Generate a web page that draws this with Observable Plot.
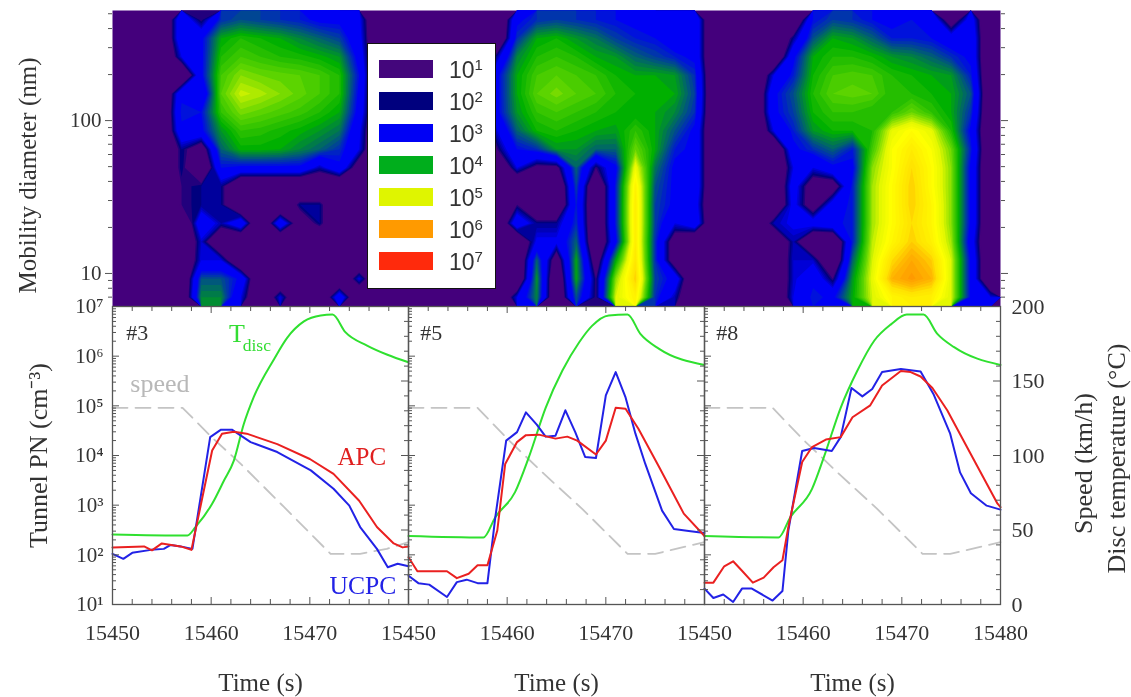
<!DOCTYPE html>
<html><head><meta charset="utf-8">
<script src="https://cdn.jsdelivr.net/npm/d3@7"></script>
<script src="https://cdn.jsdelivr.net/npm/@observablehq/plot@0.6"></script>
<style>
html,body{margin:0;padding:0;background:#fff;overflow:hidden}
#fig{position:relative;width:1131px;height:697px;overflow:hidden;filter:blur(0.45px)}
#fig>div,#fig>svg{position:absolute;left:0}
#legend{left:367px!important;top:43px;width:127px;height:244px;background:#fff;border:1.5px solid #111;box-sizing:content-box;font-family:"Liberation Sans",sans-serif;color:#333}
#legend .sw{position:absolute;left:11px;width:54px;height:18px}
#legend .lb{position:absolute;left:81px;font-size:23px;line-height:20px}
#legend sup{font-size:15px;vertical-align:8px;line-height:0}
</style></head><body><div id="fig"></div>
<script>
// Heat map: log10 number concentration. Rows run from the largest diameter (top) to the smallest,
// columns every 2 s through the three runs laid side by side.
const r00=[1,1,1,3,2,3.3,3.5,3.4,3.3,3.2,3,3,2.6,1,1, 1,1,1,1,1,3,3.3,3.4,3.3,3.2,3.1,3,3,2.5,3, 1,1,1,1,1,3.1,3.4,3.3,3.1,3,3.1,3,1.5,2.8,1];
const r01=[1,1,1,3,3,4,4.2,4.1,4,3.8,3.6,3.4,2.7,1,1, 1,1,1,1,1,3.3,4,4.1,3.9,3.7,3.4,3.2,3.1,2.8,3, 1,1,1,1,2.2,3.5,4,3.9,3.6,3.2,3.2,3.1,2.8,3,1];
const r02=[1,1,1,2.5,3,4.2,4.4,4.3,4.2,4.15,4.05,3.9,2.9,1,1, 1,1,1,1,2.3,3.8,4.2,4.3,4.2,4,3.9,3.6,3.4,3.2,3, 1,1,1,1,3,4,4.2,4.2,4.1,3.9,3.8,3.6,3.3,3,1];
const r03=[1,1,1,1,3,4.4,4.7,4.6,4.55,4.5,4.4,4.2,3.1,1,1, 1,1,1,1,3,4,4.4,4.5,4.4,4.3,4.1,4,4,3.9,3.3, 1,1,1,2.5,3.2,4.1,4.4,4.45,4.4,4.2,4.1,4,3.9,3.2,1];
const r04=[1,1,1,3,2.5,4.5,4.95,4.85,4.7,4.55,4.4,4.2,3,1,1, 1,1,1,1,3,4,4.5,4.65,4.5,4.4,4.2,4.1,4.05,4,3.4, 1,1,1,3,3.5,4.2,4.5,4.55,4.5,4.2,4.2,4.1,4,3.5,1];
const r05=[1,1,1,3.2,3.1,4.3,4.65,4.55,4.45,4.35,4.2,4,2.9,1,1, 1,1,1,1,3,3.9,4.3,4.4,4.3,4.2,4.1,4,4,3.8,3.3, 1,1,1,3,3.4,4.1,4.3,4.3,4.2,4.3,4.6,4.3,4,3.3,1];
const r06=[1,1,1,3,3,3.9,4.3,4.25,4.15,4.05,3.9,3.7,2.6,1,1, 1,1,1,1,2.5,3.6,4.1,4.2,4.1,4,3.95,4.3,4,3.5,3, 1,1,1,2.5,3.2,3.9,4.1,4.1,4.2,5.1,5.4,5.1,4.2,3,1];
const r07=[1,1,1,2.2,1.5,3.6,4.05,4.05,4,3.8,3.6,3.3,2.5,1,1, 1,1,1,1,2,3.1,3.3,3.9,3.9,3.6,3.6,4.6,4,3.2,3, 1,1,1,1,3,3.3,3.6,3.2,4.4,5.3,5.7,5.3,4.6,3.2,1];
const r08=[1,1,1,2.2,1,3.1,3,3,3,3,2.3,3,1.5,1,1, 1,1,1,1,1,2.5,1.8,1.8,3.6,2,3,5.2,3.7,3,3, 1,1,1,1,2.5,2.5,3,3,4.7,5.3,5.9,5.4,4.7,3,1];
const r09=[1,1,1,2,2.2,2.2,1,1,1,1,1,1,1,1,1, 1,1,1,1,1,1,1,1,3.4,1,3.2,5.6,3.5,3,3, 1,1,1,1,2.8,1.5,1.5,3.2,4.8,5.4,6,5.4,4.7,3,1];
const r10=[1,1,1,2,2.2,2.2,1,1,1,2.2,2.2,1,1,1,1, 1,1,1,1,1,2,1,1,3.2,1,3.2,5.7,3.4,3,2.8, 1,1,1,1,2.7,1.5,2.8,3.2,4.8,5.4,6,5.5,4.7,3,1];
const r11=[1,1,1,1,3,2.3,3,1,3,1.5,2.2,1,1,1,1, 1,1,1,1,1,3,2.2,2.2,3.3,1,3.2,5.7,3.4,2.5,3, 1,1,1,2.3,2.6,2.8,3,3.2,4.8,5.4,5.9,5.5,4.7,3,1];
const r12=[1,1,1,1,2.4,1,1,1,1,1,1,1,1,1,1, 1,1,1,1,1,1,2.6,2.6,3.6,1,3,5.7,3.3,1.5,1, 1,1,1,1,2.3,1,1,3.2,4.9,5.5,6,5.6,4.8,2.8,1];
const r13=[1,1,1,1,2.5,2.5,1,1,1,1,1,1,1,1,1, 1,1,1,1,1,1,3.6,1.5,4,1.5,4,5.8,3.3,1.5,1, 1,1,1,1,2.4,2.4,1,3.6,5,5.9,6.3,6,5,3,1];
const r14=[1,1,1,1,3.5,3.5,3,1,1,1,1,1,2.5,1,1, 1,1,1,1,1,1,3.9,1,4,2,4.7,6,3.4,2.9,1, 1,1,1,1,2.4,3,2,3.9,5.1,6.2,6.45,6.2,5,3,1];
const r15=[1,1,1,1,3.8,3.8,2.5,1,2.5,1,1,3,1,1,1, 1,1,1,1,1,2.5,3.8,1,3.5,2,5,5.6,3.3,2.3,1, 1,1,1,1,2.5,3.2,3,4,5,5.5,5.7,5.6,5,3,2.5];
const heatRows=[r00,r01,r02,r03,r04,r05,r06,r07,r08,r09,r10,r11,r12,r13,r14,r15];
const diameterTop=525, diameterBottom=6.08;

const legendLabels=[1,2,3,4,5,6,7];
const legendColors=["#44067c","#00007e","#0000f5","#00ae1c","#dff500","#ff9a00","#ff2a0c"];
const colorStops=[1.9,2.1,2.5,3,4,4.5,5,5.3,5.8,6.1,6.4,7];
const colorRange=["#44007c","#00007e","#0000f5","#0000f5","#00b000","#5cd400","#e4f800","#ffff00","#ffe400","#ffb800","#ff9a00","#ff2a0c"];

const panels=["#3","#5","#8"];
// [seconds after 15450, log10 PN]
const apc3=[[0,2.15],[3.2,2.17],[4,2.09],[5,2.23],[6.9,2.17],[8,2.1],[10.1,4.1],[11.1,4.44],[12.3,4.48],[13.6,4.44],[16.7,4.23],[20,3.93],[22.4,3.63],[25,3.09],[26.8,2.56],[28.5,2.23],[29.4,2.15],[30,2.17]];
const ucpc3=[[0,2.02],[1.1,1.92],[2,2.04],[3.9,2.1],[5.2,2.12],[5.9,2.2],[6.9,2.17],[8.1,2.12],[9.9,4.37],[11,4.52],[12.1,4.52],[14,4.27],[16.7,4.07],[20.1,3.7],[22.4,3.33],[24,2.99],[25.1,2.56],[26.8,2.12],[27.9,1.75],[28.9,1.82],[30,1.77]];
const apc5=[[0,1.95],[0.9,1.67],[3.9,1.67],[4.9,1.53],[6.1,1.62],[7,1.79],[8,1.79],[9,2.49],[9.8,3.83],[11,4.27],[11.9,4.41],[13.2,4.42],[14.9,4.34],[16.1,4.38],[17.1,4.3],[19,4.02],[20,4.3],[21,4.96],[22,4.94],[23.3,4.54],[25.4,3.77],[27.9,2.83],[30,2.38]];
const ucpc5=[[0,1.58],[1,1.43],[2.1,1.4],[3.9,1.15],[4.9,1.45],[5.9,1.5],[7,1.43],[8,1.43],[8.8,2.76],[9.9,4.3],[11,4.47],[11.9,4.87],[13,4.62],[13.9,4.38],[14.9,4.4],[15.9,4.91],[16.9,4.47],[17.9,3.97],[19,3.95],[20,5.21],[21,5.68],[22,5.17],[23,4.44],[24,3.83],[25.7,2.89],[26.9,2.52],[28.4,2.48],[30,2.44]];
const apc8=[[0,1.44],[0.9,1.44],[2,1.77],[2.9,1.87],[3.8,1.68],[4.9,1.44],[6,1.54],[7,1.75],[7.9,1.89],[8.5,2.56],[9.9,3.87],[10.9,4.17],[12.3,4.32],[13.8,4.37],[15,4.77],[16.8,5.01],[18,5.41],[19.9,5.7],[20.9,5.68],[21.9,5.59],[23.1,5.36],[24.6,4.91],[26.6,4.17],[29.7,3.03],[30,2.96]];
const ucpc8=[[0,1.32],[0.9,1.13],[1.9,1.2],[2.9,1.05],[3.8,1.32],[4.8,1.32],[6.9,1.08],[7.9,1.27],[8.5,2.49],[9.9,4.09],[11.1,4.15],[12.9,4.09],[13.8,4.37],[14.9,5.36],[16,5.19],[17,5.34],[18,5.68],[19.9,5.74],[21.9,5.69],[23.2,5.24],[24.9,4.44],[25.9,3.66],[27,3.24],[28.6,2.99],[30,2.91]];
// [seconds after 15450, value on the 0-200 right axis]
const tdisc3=[[0,47],[7.6,46.3],[8.4,51.9],[10.1,67.6],[11.3,83.2],[12.3,96.6],[13.3,121],[14.3,139],[16.4,165],[17.7,179],[19.4,190],[21.1,194],[22.3,194.6],[23.6,182.8],[25.8,173.8],[27.8,167.8],[30,162.6]];
const tdisc5=[[0,46],[7.6,45],[8.8,58.6],[10.8,75.4],[12.2,98.9],[13.9,132],[15.6,157],[17.3,176],[18.6,187],[20.3,194],[22.2,194.6],[23.5,181.6],[25.4,171.6],[30,160.8]];
const tdisc8=[[0,46],[7.5,45],[8.7,58.6],[10.9,77.6],[12.1,98.9],[13.8,132],[15.5,157],[17.2,177],[18.9,188],[20.5,194.6],[22.2,194.6],[23.6,181.6],[25.3,172.7],[30,160.8]];
const speed3=[[0,132],[7.1,132],[10.1,112],[13,94.4],[17.4,65.3],[22.1,34],[25.1,34],[27.8,37.4],[30,41.8]];
const speed5=[[0,132],[7,132],[10.2,110],[13.9,86.6],[17.6,64.2],[22.2,34],[25,34],[30,41.8]];
const speed8=[[0,132],[6.9,132],[10.1,110],[13.8,86.6],[17.5,64.2],[22.1,34],[24.9,34],[30,41.8]];

const serif='"Liberation Serif",serif';
const ink="#555";
const fromRight=v=>10**(1+v*6/200);
const series=(name,panel,pts,isLog)=>pts.map(([s,v])=>({name,panel,t:15450+s,y:isLog?10**v:fromRight(v)}));

const fig=document.getElementById("fig");

// ---- top heat map (rows are evenly spaced in log10 diameter, so y is linear in log10 d)
const majorD=[10,100];
const minorD=[7,8,9,20,30,40,50,60,70,80,90,200,300,400,500];
const lg=Math.log10;
const topPlot=Plot.plot({
  width:1131,height:306,marginLeft:112,marginRight:131,marginTop:10,marginBottom:0,
  style:{fontFamily:serif,background:"transparent",overflow:"visible"},
  x:{domain:[0,90],axis:null},
  y:{domain:[lg(diameterBottom),lg(diameterTop)],axis:null},
  color:{type:"linear",domain:colorStops,range:colorRange,clamp:true},
  marks:[
    Plot.frame({fill:colorRange[0],stroke:"none"}),
    Plot.contour(heatRows.flat(),{width:45,height:16,x1:0,x2:90,y1:lg(diameterTop),y2:lg(diameterBottom),fill:Plot.identity,stroke:"none",thresholds:d3.range(1.9,6.6,0.1)}),
    Plot.axisY(majorD.map(lg),{anchor:"left",tickSize:7,tickPadding:4,tickFormat:d=>String(Math.round(10**d)),fontSize:21,label:null,stroke:ink,color:"#333"}),
    Plot.axisY(minorD.map(lg),{anchor:"left",tickSize:4,fill:"none",label:null,stroke:ink}),
    Plot.axisY(majorD.map(lg),{anchor:"right",tickSize:7,fill:"none",label:null,stroke:ink}),
    Plot.axisY(minorD.map(lg),{anchor:"right",tickSize:4,fill:"none",label:null,stroke:ink}),
    Plot.text(["Mobility diameter (nm)"],{frameAnchor:"left",textAnchor:"middle",rotate:-90,dx:-85,dy:17,fontSize:25,fill:"#333"})
  ]
});
topPlot.style.top="0";
fig.append(topPlot);

// ---- bottom panels
const decades=[10,100,1e3,1e4,1e5,1e6,1e7];
const minorLog=[1,2,3,4,5,6].flatMap(k=>[2,3,4,5,6,7,8,9].map(m=>m*10**k));
const sup={1:"¹",2:"²",3:"³",4:"⁴",5:"⁵",6:"⁶",7:"⁷"};
const rightMajor=[0,50,100,150,200];
const rightMinor=d3.range(0,201,10).filter(v=>v%50);
const tMajor=[15450,15460,15470,15480];
const tMinor=d3.range(15450,15481,2).filter(t=>t%10);
const apc=[...series("a","#3",apc3,1),...series("a","#5",apc5,1),...series("a","#8",apc8,1)];
const ucpc=[...series("u","#3",ucpc3,1),...series("u","#5",ucpc5,1),...series("u","#8",ucpc8,1)];
const tdisc=[...series("t","#3",tdisc3),...series("t","#5",tdisc5),...series("t","#8",tdisc8)];
const speed=[...series("s","#3",speed3),...series("s","#5",speed5),...series("s","#8",speed8)];
const lineOpts=(stroke,extra)=>({x:"t",y:"y",z:"panel",fx:"panel",stroke,strokeWidth:2,curve:"linear",...extra});
const tag=(text,t,v,fill,fontSize,panel="#3",anchor="start")=>Plot.text([{t,v:fromRight(v),panel}],{x:"t",y:"v",fx:"panel",text:()=>text,fill,fontSize,textAnchor:anchor});
const tickH=(vals,len,side)=>Plot.tickY(vals,{y:d=>d,stroke:ink,strokeWidth:1,[side==="left"?"insetRight":"insetLeft"]:296-len});
const tickV=(vals,len,side)=>Plot.tickX(vals,{x:d=>d,stroke:ink,strokeWidth:1,[side==="bottom"?"insetTop":"insetBottom"]:298-len});

const bottomPlot=Plot.plot({
  width:1131,height:391,marginLeft:112,marginRight:131,marginTop:0,marginBottom:93,
  style:{fontFamily:serif,background:"transparent",overflow:"visible"},
  fx:{domain:panels,padding:0,axis:null},
  x:{domain:[15450,15480],axis:null},
  y:{type:"log",domain:[10,1e7],axis:null},
  marks:[
    Plot.line(speed,lineOpts("#c4c4c4",{strokeDasharray:"15,8",strokeWidth:1.8})),
    Plot.line(tdisc,lineOpts("#2fe02f",{curve:"monotone-x"})),
    Plot.line(ucpc,lineOpts("#2222e6")),
    Plot.line(apc,lineOpts("#ea2020")),
    Plot.frame({stroke:ink,strokeWidth:1.3}),
    tickV(tMajor,7,"bottom"),tickV(tMinor,5,"bottom"),
    tickV(tMajor,7,"top"),tickV(tMinor,5,"top"),
    tickH(decades,7,"left"),tickH(minorLog,4,"left"),
    tickH(rightMajor.map(fromRight),7,"right"),tickH(rightMinor.map(fromRight),4,"right"),
    Plot.axisY(decades,{anchor:"left",tickSize:0,tickPadding:9,fontSize:21,label:null,color:"#333",
      tickFormat:d=>"10"+sup[Math.round(Math.log10(d))]}),
    Plot.text(rightMajor.map(v=>({v,panel:"#8"})),{y:d=>fromRight(d.v),fx:"panel",frameAnchor:"right",dx:11,textAnchor:"start",text:d=>String(d.v),fontSize:22,fill:"#333"}),
    Plot.text([15450,15460,15470].flatMap(t=>panels.map(panel=>({t,panel}))),{x:"t",fx:"panel",frameAnchor:"bottom",dy:28,lineAnchor:"middle",text:d=>String(d.t),fontSize:22,fill:"#333"}),
    Plot.text([{t:15480,panel:"#8"}],{x:"t",fx:"panel",frameAnchor:"bottom",dy:28,lineAnchor:"middle",text:d=>String(d.t),fontSize:22,fill:"#333"}),
    Plot.text(["Time (s)"],{frameAnchor:"bottom",textAnchor:"middle",dy:78,lineAnchor:"middle",fontSize:25,fill:"#333"}),
    Plot.text(["Tunnel PN (cm⁻³)"],{frameAnchor:"left",textAnchor:"middle",facet:"super",rotate:-90,dx:-74,fontSize:26,fill:"#333"}),
    Plot.text(["Speed (km/h)"],{frameAnchor:"right",textAnchor:"middle",facet:"super",rotate:-90,dx:83,dy:8,fontSize:26,fill:"#333"}),
    Plot.text(["Disc temperature (°C)"],{frameAnchor:"right",textAnchor:"middle",facet:"super",rotate:-90,dx:116,dy:3,fontSize:26,fill:"#333"}),
    tag("#3",15451.4,182.5,"#333",22),
    tag("#5",15451.2,182.5,"#333",22,"#5"),
    tag("#8",15451.2,182.5,"#333",22,"#8"),
    tag("T",15461.8,182,"#33dd33",26),
    tag("disc",15463.2,174,"#33dd33",17.5),
    tag("speed",15451.8,148,"#b8b8b8",26),
    tag("APC",15472.8,99,"#e02020",25),
    tag("UCPC",15472,12.8,"#2222e6",25.6)
  ]
});
bottomPlot.style.top="306px";
fig.append(bottomPlot);

// ---- legend
const legend=document.createElement("div");
legend.id="legend";
legendLabels.forEach((k,i)=>{
  const s=document.createElement("div");s.className="sw";s.style.top=(16+i*32)+"px";s.style.background=legendColors[i];legend.append(s);
  const l=document.createElement("div");l.className="lb";l.style.top=(16+i*32)+"px";l.innerHTML="10<sup>"+k+"</sup>";legend.append(l);
});
fig.append(legend);
</script></body></html>
